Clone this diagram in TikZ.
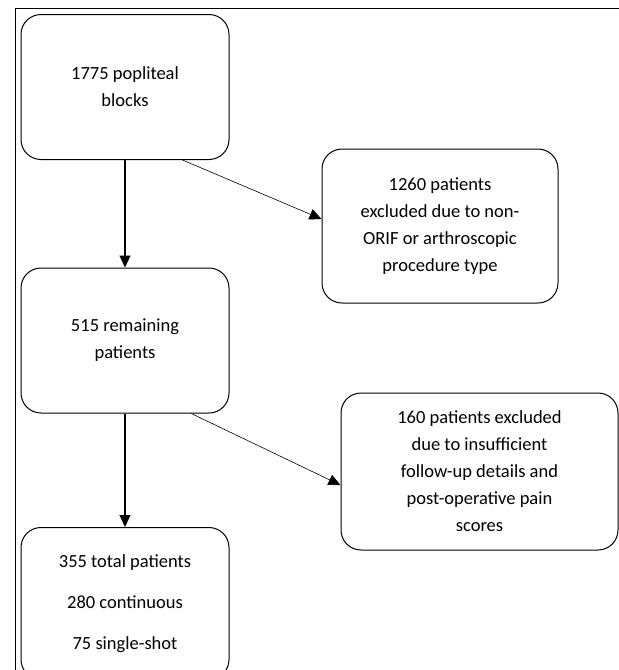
\documentclass[tikz,border=0pt]{standalone}
\usepackage{fontspec}
\setmainfont{Carlito}
\usetikzlibrary{arrows.meta,calc}

\begin{document}
\begin{tikzpicture}[x=1pt,y=-1pt,
  flowbox/.style={draw,line width=1pt,rounded corners=20pt,align=center,
    inner sep=0pt,font=\fontsize{18.5}{27}\selectfont},
  mainarrow/.style={line width=1.1pt,-{Triangle[length=12pt,width=11pt]}},
  sidearrow/.style={line width=0.6pt,-{Triangle[length=12pt,width=11pt]}}]
  \useasboundingbox (0,0) rectangle (619,670);
  \begin{scope}
    \clip (0,0) rectangle (619,670);
    \draw[line width=0.8pt] (15,670) -- (15,8) -- (619,8);
    \node[flowbox,minimum width=208pt,minimum height=145pt] (blocks) at (125,87)
      {1775 popliteal\\blocks};
    \node[flowbox,minimum width=236pt,minimum height=154pt] (excl1) at (440,226)
      {1260 patients\\excluded due to non-\\ORIF or arthroscopic\\procedure type};
    \node[flowbox,minimum width=208pt,minimum height=145pt] (remain) at (125,340.5)
      {515 remaining\\patients};
    \node[flowbox,minimum width=277pt,minimum height=157pt] (excl2) at (479.5,471.5)
      {160 patients excluded\\due to insufficient\\follow-up details and\\post-operative pain\\scores};
    \node[flowbox,minimum width=208pt,minimum height=152pt,anchor=north,
      font=\fontsize{18.5}{41}\selectfont] (total) at (125,527)
      {355 total patients\\280 continuous\\75 single-shot};
    \draw[mainarrow] (blocks.south) -- (remain.north);
    \draw[mainarrow] (remain.south) -- (total.north);
    \draw[sidearrow] ($(blocks.south west)!0.775!(blocks.south east)$)
      -- ($(excl1.north west)!0.455!(excl1.south west)$);
    \draw[sidearrow] ($(remain.south west)!0.817!(remain.south east)$)
      -- ($(excl2.north west)!0.586!(excl2.south west)$);
  \end{scope}
\end{tikzpicture}
\end{document}
